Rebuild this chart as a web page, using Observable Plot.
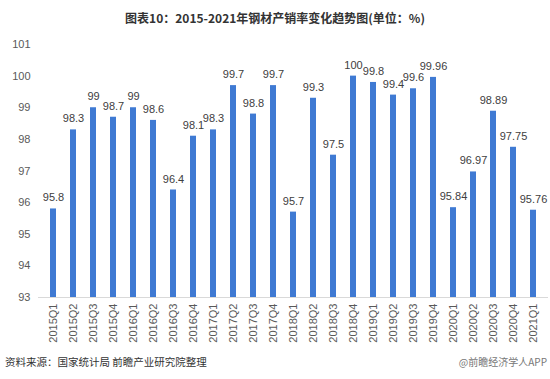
<!DOCTYPE html>
<html>
<head>
<meta charset="utf-8">
<script src="https://cdn.jsdelivr.net/npm/d3@7"></script>
<script src="https://cdn.jsdelivr.net/npm/@observablehq/plot@0.6"></script>
<style>
  html, body { margin: 0; padding: 0; background: #fff; }
  #wrap { position: relative; width: 550px; height: 379px; overflow: hidden; font-family: "Noto Sans CJK SC", "Liberation Sans", sans-serif; }
  #title { position: absolute; left: 0; top: 0; width: 550px; height: 36px; line-height: 36px; text-align: center; font-size: 12px; font-weight: bold; color: #333; }
  #chart { position: absolute; left: 0; top: 36px; }
  #source { position: absolute; left: 5px; top: 354px; font-size: 10.5px; color: #333; }
  #brand { position: absolute; right: 3px; top: 354px; font-size: 10px; color: #777; }
</style>
</head>
<body>
<div id="wrap">
  <div id="title">图表10：2015-2021年钢材产销率变化趋势图(单位：%)</div>
  <div id="chart"></div>
  <div id="source">资料来源：国家统计局 前瞻产业研究院整理</div>
  <div id="brand">@前瞻经济学人APP</div>
</div>
<script>
const quarters = ["2015Q1","2015Q2","2015Q3","2015Q4","2016Q1","2016Q2","2016Q3","2016Q4","2017Q1","2017Q2","2017Q3","2017Q4","2018Q1","2018Q2","2018Q3","2018Q4","2019Q1","2019Q2","2019Q3","2019Q4","2020Q1","2020Q2","2020Q3","2020Q4","2021Q1"];
const values = [95.8,98.3,99,98.7,99,98.6,96.4,98.1,98.3,99.7,98.8,99.7,95.7,99.3,97.5,100,99.8,99.4,99.6,99.96,95.84,96.97,98.89,97.75,95.76];
const yTicks = [93,94,95,96,97,98,99,100,101];

const data = quarters.map((q, i) => ({q, v: values[i]}));

const chart = Plot.plot({
  width: 550,
  height: 315,
  marginLeft: 38,
  marginRight: 2,
  marginTop: 8,
  marginBottom: 54,
  style: {fontFamily: "'Liberation Sans', Arial, sans-serif", fontSize: "11px", color: "#595959", background: "transparent"},
  x: {domain: quarters, paddingInner: 0.7, paddingOuter: 0.6, label: null, tickSize: 0, tickPadding: 6, tickRotate: -90},
  y: {domain: [93, 101], ticks: yTicks, label: null, tickSize: 0, tickPadding: 8},
  marks: [
    Plot.barY(data, {x: "q", y1: 93, y2: "v", fill: "#3f7ad3"}),
    Plot.ruleY([93], {stroke: "#d9d9d9"}),
    Plot.text(data, {x: "q", y: "v", text: d => String(d.v), dy: -11, fill: "#404040", fontSize: 11})
  ]
});
document.getElementById("chart").appendChild(chart);
</script>
</body>
</html>
